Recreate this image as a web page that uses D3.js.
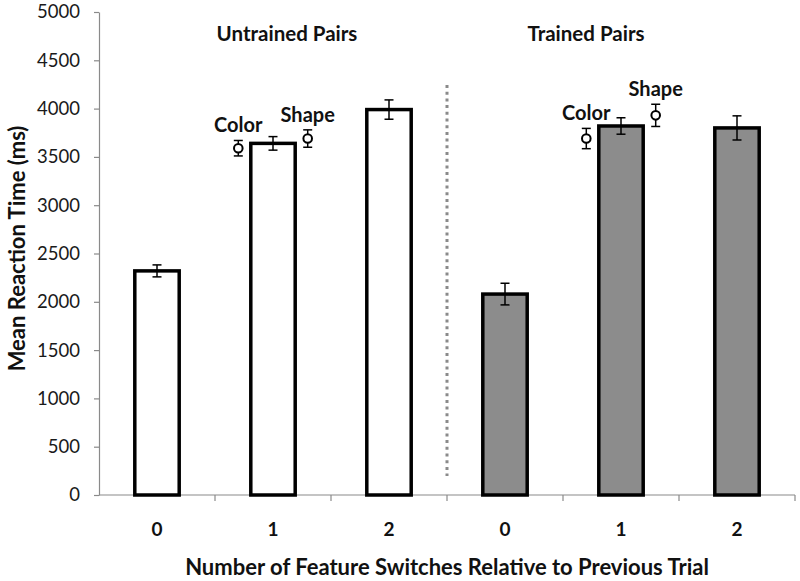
<!DOCTYPE html>
<html>
<head>
<meta charset="utf-8">
<script src="https://cdn.jsdelivr.net/npm/d3@7"></script>
<style>
  body { margin: 0; background: #fff; }
  text { font-family: Lato, "Open Sans", sans-serif; }
</style>
</head>
<body>
<svg id="chart" width="800" height="581"></svg>
<script>
// data
const keys = ["U0", "U1", "U2", "T0", "T1", "T2"];
const tickLabels = ["0", "1", "2", "0", "1", "2"];
const groups = ["Untrained Pairs", "Untrained Pairs", "Untrained Pairs", "Trained Pairs", "Trained Pairs", "Trained Pairs"];
const means = [2320, 3640, 3990, 2080, 3820, 3800];
const errs = [62, 70, 100, 112, 85, 125];
// single-feature switches, plotted next to the "1" bar of each group
const colorMeans = [3590, 3690];
const colorErrs = [80, 105];
const shapeMeans = [3690, 3930];
const shapeErrs = [90, 115];
const yTicks = d3.range(0, 5001, 500);

const svg = d3.select("#chart");
const mLeft = 99, mRight = 795, mTop = 12, mBottom = 495;

const x = d3.scaleBand().domain(keys).range([mLeft, mRight]).paddingInner(0.6).paddingOuter(0.3);
const y = d3.scaleLinear().domain([0, 5000]).range([mBottom, mTop]);
const half = x.bandwidth() / 2;
const cx = k => x(k) + half;

// y axis
const yAxis = svg.append("g")
    .attr("transform", "translate(" + mLeft + ",0)")
    .call(d3.axisLeft(y).tickValues(yTicks).tickFormat(d3.format("d"))
        .tickSize(5).tickSizeOuter(0).tickPadding(14));
yAxis.select(".domain").attr("stroke", "#8a8a8a").attr("stroke-width", 1.2);
yAxis.selectAll(".tick line").attr("stroke", "#8a8a8a").attr("stroke-width", 1.2);
yAxis.selectAll(".tick text")
    .attr("font-family", "Lato, sans-serif")
    .attr("font-size", 18.5)
    .attr("fill", "#1a1a1a");

// x axis line + ticks at band boundaries
svg.append("line")
    .attr("x1", mLeft).attr("x2", mRight)
    .attr("y1", y(0)).attr("y2", y(0))
    .attr("stroke", "#8a8a8a").attr("stroke-width", 1.2);
const bounds = keys.map(k => cx(k) + x.step() / 2);
svg.selectAll(".xtick")
    .data(bounds)
    .enter().append("line")
    .attr("class", "xtick")
    .attr("x1", d => d).attr("x2", d => d)
    .attr("y1", y(0)).attr("y2", y(0) + 6)
    .attr("stroke", "#8a8a8a").attr("stroke-width", 1.2);

svg.selectAll(".xlabel")
    .data(keys)
    .enter().append("text")
    .attr("class", "xlabel")
    .attr("x", d => cx(d))
    .attr("y", 536)
    .attr("text-anchor", "middle")
    .attr("font-weight", "bold")
    .attr("font-size", 19)
    .attr("fill", "#111")
    .text((d, i) => tickLabels[i]);

// divider between the two groups
const divX = cx("U2") + x.step() / 2;
svg.append("line")
    .attr("x1", divX).attr("x2", divX)
    .attr("y1", 85).attr("y2", 476)
    .attr("stroke", "#8a8a8a")
    .attr("stroke-width", 3)
    .attr("stroke-dasharray", "3,3.7");

// bars
svg.selectAll(".bar")
    .data(keys)
    .enter().append("rect")
    .attr("class", "bar")
    .attr("x", d => x(d) + 1)
    .attr("width", x.bandwidth() - 2)
    .attr("y", (d, i) => y(means[i]))
    .attr("height", (d, i) => y(0) - y(means[i]))
    .attr("fill", (d, i) => groups[i] === "Trained Pairs" ? "#8c8c8c" : "#fff")
    .attr("stroke", "#000")
    .attr("stroke-width", 3.5);

function errorBar(g, px, m, e) {
    const w = 4.5;
    g.append("line").attr("x1", px).attr("x2", px).attr("y1", y(m + e)).attr("y2", y(m - e));
    g.append("line").attr("x1", px - w).attr("x2", px + w).attr("y1", y(m + e)).attr("y2", y(m + e));
    g.append("line").attr("x1", px - w).attr("x2", px + w).attr("y1", y(m - e)).attr("y2", y(m - e));
}

const eg = svg.append("g").attr("stroke", "#000").attr("stroke-width", 1.5);
keys.forEach((k, i) => errorBar(eg, cx(k), means[i], errs[i]));

// color / shape markers around the "1" bars
const oneKeys = ["U1", "T1"];
const off = half + 11.5;
const markers = [];
oneKeys.forEach((k, i) => {
    markers.push({ label: "Color", px: cx(k) - off, m: colorMeans[i], e: colorErrs[i] });
    markers.push({ label: "Shape", px: cx(k) + off, m: shapeMeans[i], e: shapeErrs[i] });
});

markers.forEach(d => {
    errorBar(eg, d.px, d.m, d.e);
    svg.append("circle")
        .attr("cx", d.px).attr("cy", y(d.m)).attr("r", 4.3)
        .attr("fill", "#fff").attr("stroke", "#000").attr("stroke-width", 2);
    svg.append("text")
        .attr("x", d.px)
        .attr("y", y(d.m + d.e) - 8)
        .attr("text-anchor", "middle")
        .attr("font-weight", "bold")
        .attr("font-size", 20)
        .attr("fill", "#111")
        .text(d.label);
});

// group titles
svg.append("text")
    .attr("x", (cx("U1") + cx("U2")) / 2 - 44)
    .attr("y", 41)
    .attr("text-anchor", "middle")
    .attr("font-weight", "bold").attr("font-size", 20.5).attr("fill", "#111")
    .text("Untrained Pairs");
svg.append("text")
    .attr("x", cx("T1") - 35)
    .attr("y", 41)
    .attr("text-anchor", "middle")
    .attr("font-weight", "bold").attr("font-size", 20.5).attr("fill", "#111")
    .text("Trained Pairs");

// axis titles
svg.append("text")
    .attr("x", (mLeft + mRight) / 2)
    .attr("y", 575)
    .attr("text-anchor", "middle")
    .attr("font-weight", "bold").attr("font-size", 22).attr("fill", "#111")
    .text("Number of Feature Switches Relative to Previous Trial");
svg.append("text")
    .attr("transform", "translate(25," + ((mTop + mBottom) / 2 - 5) + ") rotate(-90)")
    .attr("text-anchor", "middle")
    .attr("font-weight", "bold").attr("font-size", 22).attr("fill", "#111")
    .text("Mean Reaction Time (ms)");
</script>
</body>
</html>
